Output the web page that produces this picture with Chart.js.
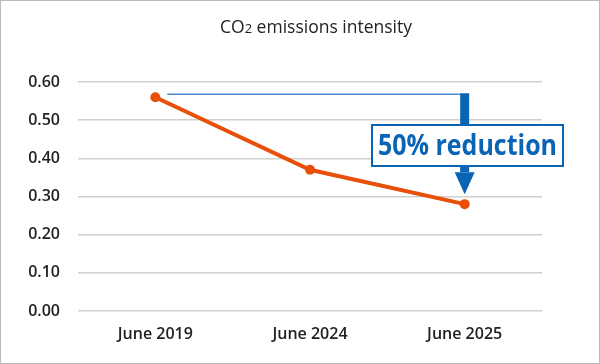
<!DOCTYPE html>
<html>
<head>
<meta charset="utf-8">
<script src="https://cdn.jsdelivr.net/npm/chart.js@4"></script>
<style>
  html, body { margin: 0; padding: 0; background: #fff; }
  #wrap { width: 600px; height: 364px; box-sizing: border-box; border: 1px solid #bbb; position: relative; }
  canvas { display: block; }
</style>
</head>
<body>
<div id="wrap"><canvas id="chart" width="598" height="362"></canvas></div>
<script>
// --- data ---
const categories = ['June 2019', 'June 2024', 'June 2025'];
const intensity = [0.56, 0.37, 0.28];
const yTicks = [0, 0.1, 0.2, 0.3, 0.4, 0.5, 0.6];
const titleParts = ['CO', '2', ' emissions intensity'];
const noteText = '50% reduction';

const FONT = '"Open Sans", "Noto Sans", sans-serif';
const ORANGE = '#e8500a';
const BLUE = '#0a64b4';

// title drawn with a small "2"
const titlePlugin = {
  id: 'titleParts',
  afterDraw(chart) {
    const ctx = chart.ctx;
    ctx.save();
    ctx.fillStyle = '#222';
    ctx.textBaseline = 'alphabetic';
    const big = '17.5px ' + FONT, small = '13px ' + FONT;
    ctx.font = big;
    const w0 = ctx.measureText(titleParts[0]).width;
    const w2 = ctx.measureText(titleParts[2]).width;
    ctx.font = small;
    const w1 = ctx.measureText(titleParts[1]).width;
    let x = 219;
    const y = 32;
    ctx.textAlign = 'left';
    ctx.font = big; ctx.fillText(titleParts[0], x, y); x += w0;
    ctx.font = small; ctx.fillText(titleParts[1], x, y); x += w1;
    ctx.font = big; ctx.fillText(titleParts[2], x, y);
    ctx.restore();
  }
};

// reduction arrow + label box
const notePlugin = {
  id: 'note',
  afterDatasetsDraw(chart) {
    const ctx = chart.ctx;
    const xs = chart.scales.x, ys = chart.scales.y;
    const x0 = xs.getPixelForValue(0), x2 = xs.getPixelForValue(2);
    const yTop = ys.getPixelForValue(intensity[0]) - 3;
    const yEnd = ys.getPixelForValue(intensity[2]);
    ctx.save();
    // horizontal reference line
    ctx.strokeStyle = '#4a8ccc';
    ctx.lineWidth = 1.5;
    ctx.beginPath();
    ctx.moveTo(x0 + 12, yTop);
    ctx.lineTo(x2 - 4, yTop);
    ctx.stroke();
    // shaft + head
    const tipY = yEnd - 10;
    const headTop = tipY - 22;
    ctx.fillStyle = BLUE;
    ctx.fillRect(x2 - 4.5, yTop - 1, 9, headTop - yTop + 1);
    ctx.beginPath();
    ctx.moveTo(x2 - 10, headTop);
    ctx.lineTo(x2 + 10, headTop);
    ctx.lineTo(x2, tipY);
    ctx.closePath();
    ctx.fill();
    // box
    const bx = 371, by = 124, bw = 191, bh = 41;
    ctx.fillStyle = '#fff';
    ctx.fillRect(bx, by, bw, bh);
    ctx.strokeStyle = BLUE;
    ctx.lineWidth = 2;
    ctx.strokeRect(bx, by, bw, bh);
    // text, squeezed to box width
    ctx.font = 'bold 29px ' + FONT;
    const tw = ctx.measureText(noteText).width;
    const target = 179;
    ctx.translate(bx + bw / 2, by + bh / 2 + 1);
    ctx.scale(target / tw, 1);
    ctx.fillStyle = BLUE;
    ctx.textAlign = 'center';
    ctx.textBaseline = 'middle';
    ctx.fillText(noteText, 0, 0);
    ctx.restore();
  }
};

new Chart(document.getElementById('chart').getContext('2d'), {
  type: 'line',
  data: {
    labels: categories,
    datasets: [{
      data: intensity,
      borderColor: ORANGE,
      backgroundColor: ORANGE,
      borderWidth: 4,
      pointRadius: 5,
      pointBackgroundColor: ORANGE,
      pointBorderWidth: 0,
      tension: 0
    }]
  },
  options: {
    responsive: false,
    animation: false,
    layout: { padding: { top: 81, right: 57, left: 0, bottom: 0 } },
    plugins: { legend: { display: false }, title: { display: false }, tooltip: { enabled: false } },
    scales: {
      x: {
        offset: true,
        grid: { display: false },
        border: { display: false },
        ticks: { color: '#222', font: { family: FONT, size: 16, weight: '600' }, padding: 6, maxRotation: 0 },
        afterFit(s) { s.height = 52; }
      },
      y: {
        min: 0,
        max: 0.6,
        afterBuildTicks(s) { s.ticks = yTicks.map(v => ({ value: v })); },
        grid: { color: '#d0d0d0', lineWidth: 1.5, drawTicks: false },
        border: { display: false },
        ticks: {
          color: '#222',
          padding: 18,
          font: { family: FONT, size: 16, weight: '600' },
          callback: v => v.toFixed(2)
        },
        afterFit(s) { s.width = 77; }
      }
    }
  },
  plugins: [titlePlugin, notePlugin]
});
</script>
</body>
</html>
